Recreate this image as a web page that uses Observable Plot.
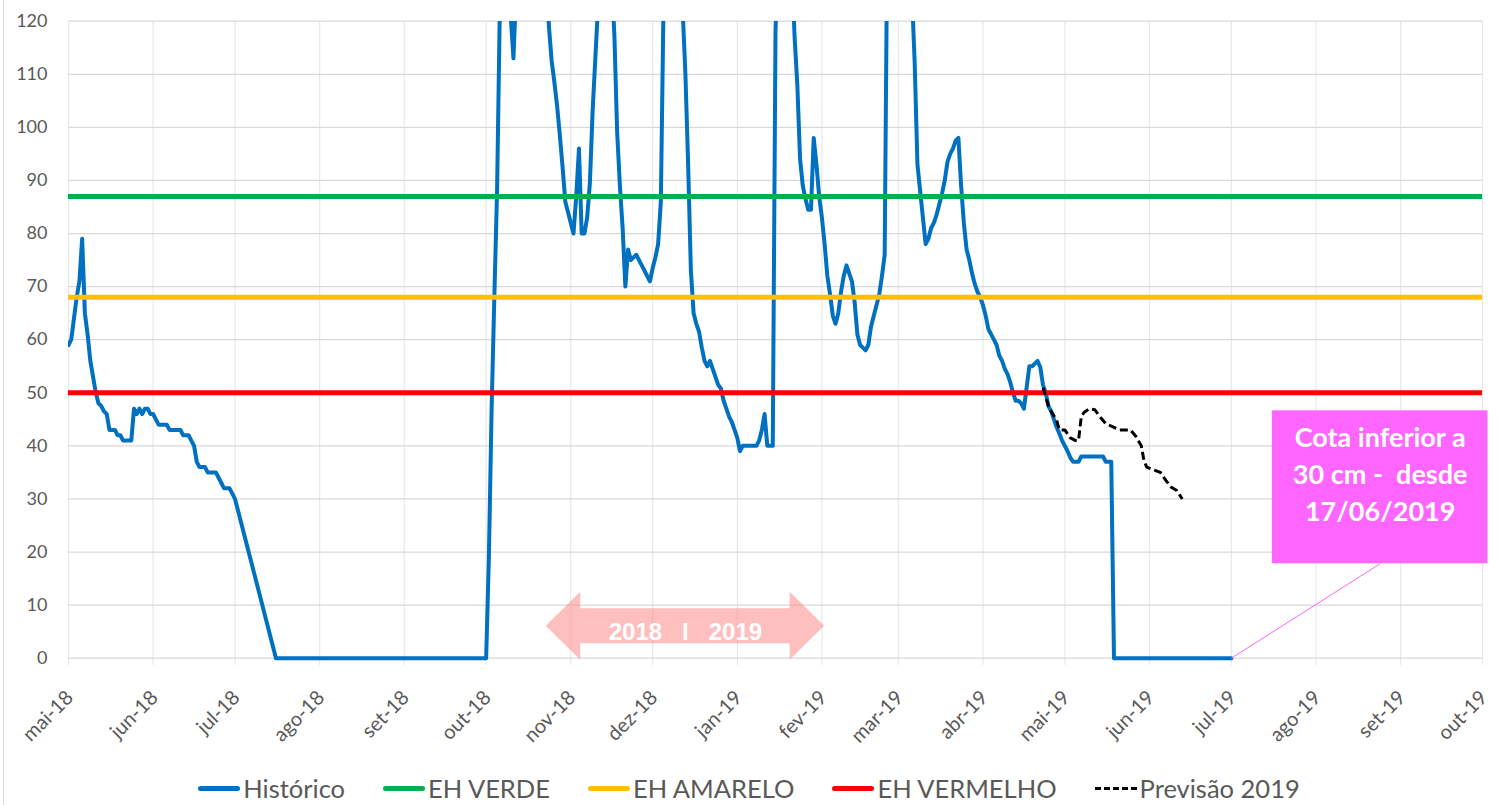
<!DOCTYPE html>
<html>
<head>
<meta charset="utf-8">
<script src="https://cdn.jsdelivr.net/npm/d3@7"></script>
<script src="https://cdn.jsdelivr.net/npm/@observablehq/plot@0.6"></script>
<style>
  body { margin: 0; background: #fff; }
  #wrap { position: relative; width: 1498px; height: 805px; overflow: hidden; background: #fff; }
  #frame { position: absolute; left: 3px; top: 0; width: 1px; height: 805px; background: #d9d9d9; }
  #chart { position: absolute; left: 0; top: 0; }
  #legend { position: absolute; left: 0; top: 768px; width: 1498px; height: 40px;
            display: flex; justify-content: center; align-items: center; gap: 38px;
            font-family: Lato, "Open Sans", sans-serif; font-size: 25.5px; color: #595959; }
  .item { display: flex; align-items: center; }
  .sw { width: 42px; height: 5px; border-radius: 3px; margin-right: 3px; }
  .sw.dash { height: 0; border-top: 3.5px dashed #000; border-radius: 0; }
</style>
</head>
<body>
<div id="wrap"><div id="chart"></div><div id="legend"></div><div id="frame"></div></div>
<script>
// ---------------- data ----------------
const histDates = [
  "2018-05-01","2018-05-02","2018-05-03","2018-05-04","2018-05-05","2018-05-06","2018-05-07","2018-05-08","2018-05-09","2018-05-10",
  "2018-05-11","2018-05-12","2018-05-13","2018-05-14","2018-05-15","2018-05-16","2018-05-17","2018-05-18","2018-05-19","2018-05-20",
  "2018-05-21","2018-05-22","2018-05-23","2018-05-24","2018-05-25","2018-05-26","2018-05-27","2018-05-28","2018-05-29","2018-05-30",
  "2018-05-31","2018-06-01","2018-06-02","2018-06-03","2018-06-04","2018-06-05","2018-06-06","2018-06-07","2018-06-08","2018-06-09",
  "2018-06-10","2018-06-11","2018-06-12","2018-06-13","2018-06-14","2018-06-15","2018-06-16","2018-06-17","2018-06-18","2018-06-19",
  "2018-06-20","2018-06-21","2018-06-22","2018-06-23","2018-06-24","2018-06-25","2018-06-26","2018-06-27","2018-06-28","2018-06-29",
  "2018-06-30","2018-07-01","2018-07-16","2018-10-01","2018-10-02","2018-10-03","2018-10-04","2018-10-05","2018-10-06","2018-10-07",
  "2018-10-08","2018-10-09","2018-10-10","2018-10-11","2018-10-12","2018-10-13","2018-10-17","2018-10-21","2018-10-23","2018-10-24",
  "2018-10-25","2018-10-26","2018-10-27","2018-10-28","2018-10-29","2018-10-30","2018-10-31","2018-11-01","2018-11-02","2018-11-03",
  "2018-11-04","2018-11-05","2018-11-06","2018-11-07","2018-11-08","2018-11-09","2018-11-10","2018-11-11","2018-11-12","2018-11-14",
  "2018-11-16","2018-11-17","2018-11-18","2018-11-19","2018-11-20","2018-11-21","2018-11-22","2018-11-23","2018-11-24","2018-11-25",
  "2018-11-26","2018-11-27","2018-11-28","2018-11-29","2018-11-30","2018-12-01","2018-12-02","2018-12-03","2018-12-04","2018-12-05",
  "2018-12-06","2018-12-09","2018-12-11","2018-12-12","2018-12-13","2018-12-14","2018-12-15","2018-12-16","2018-12-17","2018-12-18",
  "2018-12-19","2018-12-20","2018-12-21","2018-12-22","2018-12-23","2018-12-24","2018-12-25","2018-12-26","2018-12-27","2018-12-28",
  "2018-12-29","2018-12-30","2018-12-31","2019-01-01","2019-01-02","2019-01-03","2019-01-04","2019-01-05","2019-01-06","2019-01-07",
  "2019-01-08","2019-01-09","2019-01-10","2019-01-11","2019-01-12","2019-01-13","2019-01-14","2019-01-15","2019-01-16","2019-01-19",
  "2019-01-21","2019-01-22","2019-01-23","2019-01-24","2019-01-25","2019-01-26","2019-01-27","2019-01-28","2019-01-29","2019-01-30",
  "2019-01-31","2019-02-01","2019-02-02","2019-02-03","2019-02-04","2019-02-05","2019-02-06","2019-02-07","2019-02-08","2019-02-09",
  "2019-02-10","2019-02-11","2019-02-12","2019-02-13","2019-02-14","2019-02-15","2019-02-16","2019-02-17","2019-02-18","2019-02-19",
  "2019-02-20","2019-02-21","2019-02-22","2019-02-23","2019-02-24","2019-02-25","2019-02-28","2019-03-03","2019-03-05","2019-03-06",
  "2019-03-07","2019-03-08","2019-03-09","2019-03-10","2019-03-11","2019-03-12","2019-03-13","2019-03-14","2019-03-15","2019-03-16",
  "2019-03-17","2019-03-18","2019-03-19","2019-03-20","2019-03-21","2019-03-22","2019-03-23","2019-03-24","2019-03-25","2019-03-26",
  "2019-03-27","2019-03-28","2019-03-29","2019-03-30","2019-03-31","2019-04-01","2019-04-02","2019-04-03","2019-04-04","2019-04-05",
  "2019-04-06","2019-04-07","2019-04-08","2019-04-09","2019-04-10","2019-04-11","2019-04-12","2019-04-13","2019-04-14","2019-04-15",
  "2019-04-16","2019-04-17","2019-04-18","2019-04-19","2019-04-20","2019-04-21","2019-04-22","2019-04-23","2019-04-24","2019-04-25",
  "2019-04-26","2019-04-27","2019-04-28","2019-04-29","2019-04-30","2019-05-01","2019-05-02","2019-05-03","2019-05-04","2019-05-05",
  "2019-05-06","2019-05-07","2019-05-08","2019-05-09","2019-05-10","2019-05-11","2019-05-12","2019-05-13","2019-05-14","2019-05-15",
  "2019-05-16","2019-05-17","2019-05-18","2019-05-19","2019-07-01"
];
const histValues = [
  59,60,64,68,71,79,65,61,56,53,
  50,48,47.5,46.5,46,43,43,43,42,42,
  41,41,41,41,47,46,47,46,47,47,
  46,46,45,44,44,44,44,43,43,43,
  43,43,42,42,42,41,40,37,36,36,
  36,35,35,35,35,34,33,32,32,32,
  31,30,0,0,19,47,68,88,122,135,
  140,128,121,113,126,140,150,140,130,119,
  112.5,108.5,104,98.5,92.5,86,84,82,80,87,
  96,80,80,83,89.5,103,113,123,135,140,
  128,117,99,89,81,70,77,75,75.5,76,
  75,74,73,72,71,73.5,75.5,78,86,124,
  140,145,130,122,110,93,73,65,63,61.5,
  58.5,56,55,56,54.5,53,51.5,50.8,48.5,47,
  45.5,44.5,43,41.5,39,40,40,40,40,40,
  40,41,43,46,40,40,40,118,135,145,
  130,117,108,94,89,86.5,84.5,84.5,98,93,
  87,83,78,72,68.5,64.5,63,65,69,72,
  74,72.5,71,67,61,59,58.5,58,59,62.5,
  64.5,66.5,68.5,72,76,140,150,145,135,125,
  112,93,88,83,78,79,81,82,83.5,85.5,
  87.5,90,93.5,95,96,97.5,98,89,82,77,
  75,72.5,70.5,69,68,66.5,64.5,62,61,60,
  59,57,56,54.5,53.5,52,50,48.5,48.5,48,
  47,51,55,55,55.5,56,54.8,51.5,50,47.5,
  46.5,45,43.5,42.3,41,40,39,37.8,37,37,
  37,38,38,38,38,38,38,38,38,38,
  37,37,37,0,0
];
const prevDates = [
  "2019-04-23","2019-04-25","2019-04-26","2019-04-28","2019-04-29","2019-05-01","2019-05-03","2019-05-05","2019-05-06","2019-05-07",
  "2019-05-08","2019-05-10","2019-05-12","2019-05-14","2019-05-16","2019-05-19","2019-05-21","2019-05-25","2019-05-27","2019-05-29",
  "2019-05-30","2019-05-31","2019-06-03","2019-06-05","2019-06-07","2019-06-09","2019-06-11","2019-06-13"
];
const prevValues = [
  51,47.5,46.5,44.8,43,43,41.5,41,41,45.4,
  46.3,47,46.8,45.4,44.2,43.5,43,43,41.8,40,
  37.2,36,35.4,35,33.5,32.2,31.6,30
];
const levelNames = ["EH VERDE", "EH AMARELO", "EH VERMELHO"];
const levelValues = [87, 68, 50];
const seriesNames = ["Histórico", "EH VERDE", "EH AMARELO", "EH VERMELHO", "Previsão 2019"];
const monthTicks = ["2018-05-01","2018-06-01","2018-07-01","2018-08-01","2018-09-01","2018-10-01","2018-11-01","2018-12-01","2019-01-01",
  "2019-02-01","2019-03-01","2019-04-01","2019-05-01","2019-06-01","2019-07-01","2019-08-01","2019-09-01","2019-10-01"];
const monthLabels = ["mai-18","jun-18","jul-18","ago-18","set-18","out-18","nov-18","dez-18","jan-19",
  "fev-19","mar-19","abr-19","mai-19","jun-19","jul-19","ago-19","set-19","out-19"];
const yTicks = [0,10,20,30,40,50,60,70,80,90,100,110,120];
const noteLines = ["Cota inferior a", "30 cm -  desde", "17/06/2019"];
const noteAnchor = ["2019-07-01", 0];
const noteBoxDates = ["2019-07-16", "2019-10-03"];
const noteBoxValues = [17.8, 46.6];
const noteTextValue = 35;
const arrowDates = ["2018-10-23", "2019-02-02"];
const arrowValue = 6;
const arrowLabel = "2018   I   2019";

// ---------------- styles ----------------
const seriesColors = ["#0070C0", "#00B050", "#FFC000", "#FF0000", "#000000"];
const levelColors = seriesColors.slice(1, 4);
const FONT = "Lato, 'Open Sans', sans-serif";

// ---------------- build ----------------
const P = s => new Date(s);
const hist = histDates.map((d, i) => ({date: P(d), value: histValues[i]}));
const prev = prevDates.map((d, i) => ({date: P(d), value: prevValues[i]}));
const ticks = monthTicks.map(P);
const boxX1 = P(noteBoxDates[0]), boxX2 = P(noteBoxDates[1]);
const boxMid = new Date((+boxX1 + +boxX2) / 2);
const aX1 = P(arrowDates[0]), aX2 = P(arrowDates[1]);
const aMid = new Date((+aX1 + +aX2) / 2);

const arrowMark = (index, scales) => {
  const x1 = scales.x(aX1), x2 = scales.x(aX2), yc = scales.y(arrowValue);
  const head = 34.5, shaft = 17.5, hh = 34;
  const pts = [[x1, yc], [x1 + head, yc - hh], [x1 + head, yc - shaft], [x2 - head, yc - shaft], [x2 - head, yc - hh],
    [x2, yc], [x2 - head, yc + hh], [x2 - head, yc + shaft], [x1 + head, yc + shaft], [x1 + head, yc + hh]];
  return d3.create("svg:path")
    .attr("d", "M" + pts.map(p => p.join(",")).join("L") + "Z")
    .attr("fill", "#ff7f7f").attr("fill-opacity", 0.5).node();
};

const chart = Plot.plot({
  width: 1498,
  height: 765,
  marginLeft: 68,
  marginRight: 16,
  marginTop: 21,
  marginBottom: 100,
  style: {fontFamily: FONT, fontSize: "18px", color: "#595959", background: "transparent"},
  x: {type: "utc", domain: [ticks[0], ticks[ticks.length - 1]], axis: null},
  y: {domain: [0, 120], range: [657.7, 20.7], axis: null},
  marks: [
    Plot.gridX(ticks, {stroke: "#e8e8e8", strokeOpacity: 1, strokeWidth: 1.2}),
    Plot.gridY(yTicks, {stroke: "#d9d9d9", strokeOpacity: 1, strokeWidth: 1.3}),
    Plot.axisY(yTicks, {tickSize: 0, tickPadding: 21, label: null, fontSize: 18, fill: "#595959"}),
    Plot.text(ticks, {x: d => d, y: () => 0, text: (d, i) => monthLabels[i], rotate: -45, textAnchor: "end",
      lineAnchor: "middle", dx: 1.5, dy: 36, fontSize: 20, fill: "#595959", fontFamily: FONT}),
    arrowMark,
    Plot.text([arrowLabel], {x: aMid, y: arrowValue, dy: 6, fill: "white", fontSize: 24, fontWeight: "bold",
      fontFamily: "'Liberation Sans', Arial, sans-serif"}),
    Plot.line(hist, {x: "date", y: "value", stroke: seriesColors[0], strokeWidth: 4, clip: true}),
    ...levelValues.map((v, i) => Plot.ruleY([v], {stroke: levelColors[i], strokeWidth: 5})),
    Plot.line(prev, {x: "date", y: "value", stroke: seriesColors[4], strokeWidth: 3, strokeDasharray: "8,4",
      strokeLinecap: "butt"}),
    Plot.link([0], {x1: P(noteAnchor[0]), y1: noteAnchor[1], x2: boxMid, y2: noteBoxValues[0], stroke: "#FF66FF", strokeWidth: 1}),
    Plot.rect([0], {x1: boxX1, x2: boxX2, y1: noteBoxValues[0], y2: noteBoxValues[1], fill: "#FF66FF"}),
    Plot.text([noteLines.join("\n")], {x: boxMid, y: noteTextValue, fill: "white", fontSize: 27, fontWeight: "bold",
      lineHeight: 1.36, fontFamily: FONT})
  ]
});
chart.style.whiteSpace = "pre";
document.getElementById("chart").appendChild(chart);

// legend
const legendSel = d3.select("#legend");
seriesNames.forEach((name, i) => {
  const it = legendSel.append("div").attr("class", "item");
  const sw = it.append("div").attr("class", i === 4 ? "sw dash" : "sw");
  if (i !== 4) sw.style("background", seriesColors[i]);
  it.append("span").text(name);
});
</script>
</body>
</html>
